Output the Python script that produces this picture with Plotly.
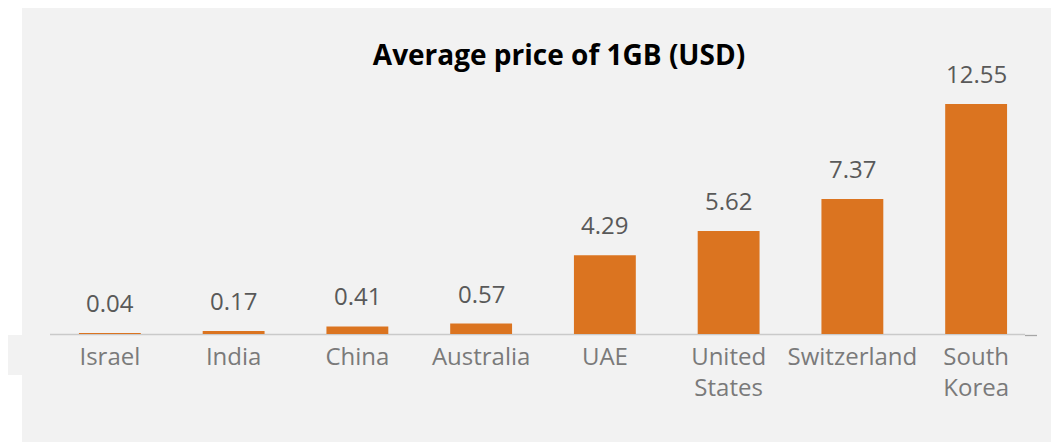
import plotly.graph_objects as go

categories = ["Israel", "India", "China", "Australia", "UAE", "United<br>States", "Switzerland", "South<br>Korea"]
prices = [0.04, 0.17, 0.41, 0.57, 4.29, 5.62, 7.37, 12.55]
value_labels = ["0.04", "0.17", "0.41", "0.57", "4.29", "5.62", "7.37", "12.55"]
title_text = "<b>Average price of 1GB (USD)</b>"

# the page body adds an 8px margin, so the figure starts at (8, 8)
OFF = 8
W, H = 1059 - OFF, 442 - OFF
L, R, T, B = 48 - OFF, 21, 59 - OFF, 108

fig = go.Figure()
fig.add_trace(go.Bar(
    x=categories, y=prices,
    marker=dict(color="#DB7420", line=dict(width=0)),
    hoverinfo="skip",
))

for c, v, lab in zip(categories, prices, value_labels):
    fig.add_annotation(
        x=c, y=v, text=lab, showarrow=False, yanchor="bottom",
        yshift=12, font=dict(family="Open Sans", size=24, color="#595959"),
    )

pw = W - L - R
ph = H - T - B


def px_x(p):
    return (p - OFF - L) / pw


def px_y(p):
    return (H - B - (p - OFF)) / ph


shapes = [
    # white frame strip on the left of the grey panel
    dict(type="rect", xref="paper", yref="paper", x0=px_x(6), x1=px_x(22), y0=px_y(335), y1=px_y(0),
         fillcolor="white", line=dict(width=0), layer="below"),
    dict(type="rect", xref="paper", yref="paper", x0=px_x(6), x1=px_x(22), y0=px_y(446), y1=px_y(375),
         fillcolor="white", line=dict(width=0), layer="below"),
    # baseline
    dict(type="line", xref="paper", yref="paper", x0=px_x(50), x1=px_x(1025), y0=px_y(334.5), y1=px_y(334.5),
         line=dict(color="#CACACA", width=1.3), layer="below"),
    dict(type="line", xref="paper", yref="paper", x0=px_x(1025), x1=px_x(1037), y0=px_y(335.5), y1=px_y(335.5),
         line=dict(color="#A6A6A6", width=1.3), layer="below"),
]

fig.update_layout(
    width=W, height=H,
    margin=dict(l=L, r=R, t=T, b=B),
    paper_bgcolor="#F2F2F2", plot_bgcolor="#F2F2F2",
    bargap=0.5,
    showlegend=False,
    title=dict(text=title_text, x=(559 - OFF) / W, xanchor="center", y=1 - (55 - OFF) / H, yanchor="middle",
               font=dict(family="Open Sans", size=28, color="#000000")),
    xaxis=dict(showline=False, showgrid=False, zeroline=False, ticks="", ticklabelstandoff=6,
               tickfont=dict(family="Open Sans", size=24, color="#7A7A7A"), fixedrange=True),
    yaxis=dict(range=[0, 15], visible=False, fixedrange=True),
    shapes=shapes,
)

fig.write_html("out.html", config={"displayModeBar": False})
